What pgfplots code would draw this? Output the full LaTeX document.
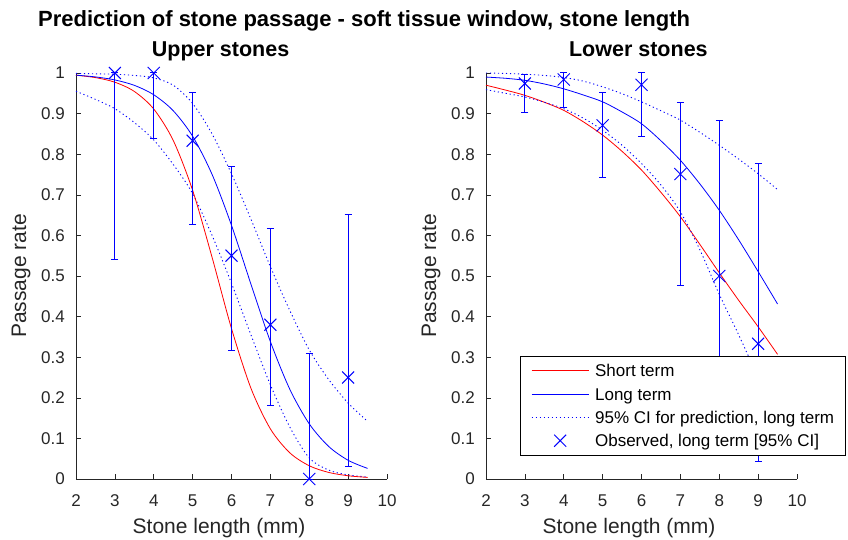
\documentclass[border=0pt]{standalone}
\usepackage{fontspec}
\setmainfont{Liberation Sans}
\usepackage{pgfplots}
\pgfplotsset{compat=1.18}
\definecolor{axgray}{RGB}{38,38,38}
\definecolor{mblue}{RGB}{0,0,255}

\pgfplotsset{
  stonepanel/.style={
    scale only axis, width=311pt, height=406pt,
    xmin=2, xmax=10, ymin=0, ymax=1,
    axis lines=left, axis line style={-, axgray, line width=0.6pt},
    tick style={axgray, line width=0.6pt}, tick align=inside, major tick length=5pt,
    xtick={2,3,...,10}, xticklabels={2,3,4,5,6,7,8,9,10},
    ytick={0,0.1,0.2,0.3,0.4,0.5,0.6,0.7,0.8,0.9,1},
    yticklabels={0,0.1,0.2,0.3,0.4,0.5,0.6,0.7,0.8,0.9,1},
    /pgf/number format/assume math mode=true,
    tick label style={font=\fontsize{17}{20}\selectfont, text=axgray},
    xticklabel style={anchor=base, inner sep=0pt, yshift=-27pt},
    yticklabel style={anchor=east, inner sep=0pt, xshift=-11pt},
    xlabel={Stone length (mm)}, ylabel={Passage rate},
    label style={font=\fontsize{21}{25}\selectfont, text=axgray},
    xlabel style={at={(axis description cs:0.46,0)}, anchor=base, yshift=-54pt},
    ylabel style={at={(axis description cs:0,0.5)}, anchor=base, yshift=50pt},
    title style={anchor=base, yshift=10pt, font=\bfseries\fontsize{21.5}{25}\selectfont},
    clip=false,
  },
  linelegend/.style={legend image code/.code={\draw[##1] (0pt,0pt) -- (57pt,0pt);}},
  marklegend/.style={legend image code/.code={\draw[mark repeat=2, mark phase=2, ##1] plot coordinates {(0pt,0pt) (28.5pt,0pt) (57pt,0pt)};}},
  shortterm/.style={red, line width=0.8pt, smooth, linelegend},
  longterm/.style={mblue, line width=0.8pt, smooth, linelegend},
  ciline/.style={mblue, line width=0.9pt, dash pattern=on 1.2pt off 2.8pt, smooth, linelegend},
  observed/.style={mblue, only marks, mark=x, mark size=8.5pt, line width=1pt,
    mark options={draw=mblue, solid}, marklegend,
    error bars/y dir=both, error bars/y explicit,
    error bars/error mark=-,
    error bars/error mark options={draw=mblue, rotate=90, mark size=3.5pt, line width=1pt},
    error bars/error bar style={draw=mblue, line width=1pt, solid}},
}

% observed, upper stones: x, rate, +err, -err
\pgfplotstableread{
x  y     ep     em
3  1.000 0.000  0.459
4  1.000 0.000  0.161
5  0.833 0.120  0.206
6  0.550 0.219  0.234
7  0.380 0.236  0.200
8  0.000 0.308  0.000
9  0.250 0.402  0.219
}\obsupper

% observed, lower stones
\pgfplotstableread{
x  y     ep     em
3  0.974 0.023  0.072
4  0.984 0.016  0.068
5  0.871 0.081  0.128
6  0.971 0.029  0.128
7  0.751 0.176  0.275
8  0.500 0.382  0.382
9  0.333 0.444  0.291
}\obslower

\begin{document}
\begin{tikzpicture}
\path[use as bounding box] (0,0) rectangle (848pt,539pt);
\node[anchor=base west, font=\bfseries\fontsize{22}{26}\selectfont, inner sep=0pt] at (38pt,512pt)
  {Prediction of stone passage - soft tissue window, stone length};

\begin{axis}[stonepanel, at={(76pt,60pt)}, anchor=south west,
  title={Upper stones}, title style={at={(axis description cs:0.465,1)}}]
\addplot[ciline] coordinates {(2,0.999) (2.5,0.998) (3,0.997) (3.5,0.994) (4,0.988) (4.5,0.970) (5,0.925) (5.5,0.850) (6,0.752) (6.5,0.640) (7,0.523) (7.5,0.415) (8,0.318) (8.5,0.245) (9,0.187) (9.5,0.142)};
\addplot[ciline] coordinates {(2,0.955) (2.5,0.935) (3,0.912) (3.5,0.878) (4,0.835) (4.5,0.775) (5,0.703) (5.5,0.600) (6,0.482) (6.5,0.355) (7,0.232) (7.5,0.128) (8,0.052) (8.5,0.022) (9,0.010) (9.5,0.005)};
\addplot[shortterm] coordinates {(2,0.9945) (2.5,0.9887) (3,0.9773) (3.5,0.9546) (4,0.9113) (4.5,0.8341) (5,0.7110) (5.5,0.5461) (6,0.3705) (6.5,0.2236) (7,0.1235) (7.5,0.0645) (8,0.0326) (8.5,0.0162) (9,0.0080) (9.5,0.0039)};
\addplot[longterm] coordinates {(2,0.9947) (2.5,0.9904) (3,0.9829) (3.5,0.9696) (4,0.9464) (4.5,0.9072) (5,0.8442) (5.5,0.7503) (6,0.6248) (6.5,0.4800) (7,0.3385) (7.5,0.2210) (8,0.1359) (8.5,0.0802) (9,0.0461) (9.5,0.0261)};
\addplot[observed] table[x=x, y=y, y error plus=ep, y error minus=em] {\obsupper};
\end{axis}

\begin{axis}[stonepanel, at={(486pt,60pt)}, anchor=south west,
  title={Lower stones}, title style={at={(axis description cs:0.49,1)}},
  legend cell align=left,
  legend style={at={(axis description cs:0.109,0.303)}, anchor=north west,
    draw=black, fill=white, line width=0.6pt, inner xsep=11pt, inner ysep=4.5pt,
    font=\fontsize{17}{20}\selectfont, row sep=3.3pt,
    nodes={inner sep=0pt, text height=16pt, text depth=4pt}},
  /tikz/every odd column/.style={column sep=6pt}]
\addplot[shortterm] coordinates {(2,0.970) (2.5,0.958) (3,0.945) (3.5,0.928) (4,0.908) (4.5,0.880) (5,0.847) (5.5,0.807) (6,0.761) (6.5,0.706) (7,0.646) (7.5,0.578) (8,0.508) (8.5,0.440) (9,0.375) (9.5,0.307)};
\addlegendentry{Short term}
\addplot[longterm] coordinates {(2,0.990) (2.5,0.987) (3,0.982) (3.5,0.973) (4,0.961) (4.5,0.946) (5,0.929) (5.5,0.904) (6,0.875) (6.5,0.833) (7,0.785) (7.5,0.727) (8,0.662) (8.5,0.589) (9,0.511) (9.5,0.431)};
\addlegendentry{Long term}
\addplot[ciline] coordinates {(2,1.000) (2.5,0.999) (3,0.997) (3.5,0.994) (4,0.989) (4.5,0.980) (5,0.966) (5.5,0.949) (6,0.929) (6.5,0.907) (7,0.884) (7.5,0.854) (8,0.822) (8.5,0.788) (9,0.752) (9.5,0.713)};
\addlegendentry{95\% CI for prediction, long term}
\addplot[ciline, forget plot] coordinates {(2,0.959) (2.5,0.950) (3,0.941) (3.5,0.928) (4,0.912) (4.5,0.889) (5,0.859) (5.5,0.822) (6,0.777) (6.5,0.724) (7,0.658) (7.5,0.565) (8,0.455) (8.5,0.355) (9,0.250) (9.5,0.145)};
\addplot[observed] table[x=x, y=y, y error plus=ep, y error minus=em] {\obslower};
\addlegendentry{Observed, long term [95\% CI]}
\end{axis}
\end{tikzpicture}
\end{document}
